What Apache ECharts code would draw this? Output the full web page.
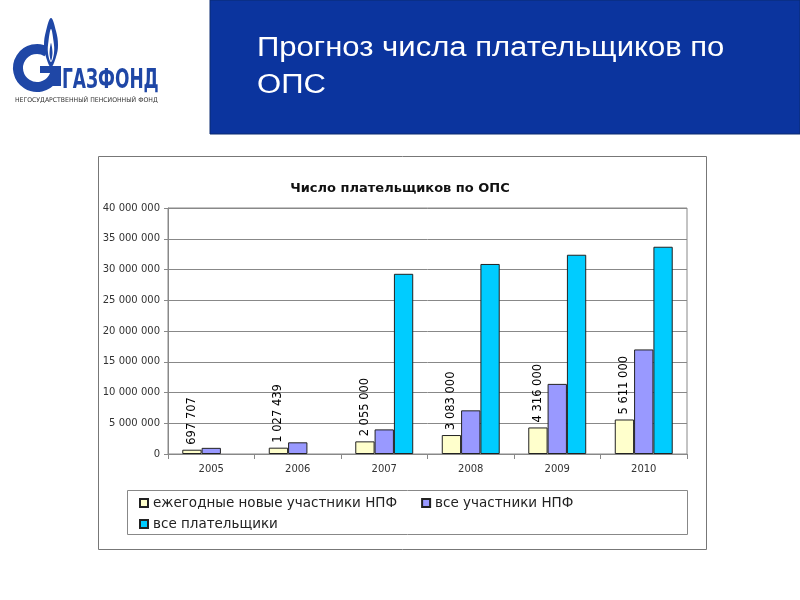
<!DOCTYPE html>
<html>
<head>
<meta charset="utf-8">
<script src="https://cdn.jsdelivr.net/npm/echarts@6/dist/echarts.min.js"></script>
<style>html,body{margin:0;padding:0;background:#fff}#c{width:800px;height:600px}</style>
</head>
<body>
<div id="c"></div>
<script>
const categories = ['2005', '2006', '2007', '2008', '2009', '2010'];
const newMembers = [697707, 1027439, 2055000, 3083000, 4316000, 5611000];
const allMembers = [1000000, 1900000, 4000000, 7100000, 11400000, 17000000];
const allPayers = [null, null, 29300000, 30900000, 32400000, 33700000];
const seriesNames = ['ежегодные новые участники НПФ', 'все участники НПФ', 'все плательщики'];
const yTicks = { min: 0, max: 40000000, interval: 5000000 };

const fmt = v => String(v).replace(/\B(?=(\d{3})+(?!\d))/g, ' ');
const FONT = 'DejaVu Sans';
const LOGO = '#1f47a6';
const chart = echarts.init(document.getElementById('c'));

const barBase = { type: 'bar', barGap: '0%', barCategoryGap: '33%' };
chart.setOption({
  animation: false,
  title: {
    text: 'Число плательщиков по ОПС', left: 'center', top: 177,
    textStyle: { fontFamily: FONT, fontWeight: 'bold', fontSize: 13, color: '#111' }
  },
  grid: { left: 168, right: 113, top: 208, bottom: 146, show: true, borderColor: '#888', borderWidth: 1 },
  xAxis: {
    type: 'category', data: categories,
    axisLine: { lineStyle: { color: '#888' } },
    axisTick: { show: true, length: 5, lineStyle: { color: '#888' } },
    axisLabel: { fontFamily: FONT, fontSize: 10, color: '#333', margin: 10 }
  },
  yAxis: {
    type: 'value', min: yTicks.min, max: yTicks.max, interval: yTicks.interval,
    axisLine: { show: true, lineStyle: { color: '#888' } },
    axisTick: { show: true, length: 4, lineStyle: { color: '#888' } },
    splitLine: { lineStyle: { color: '#888', width: 1 } },
    axisLabel: { fontFamily: FONT, fontSize: 10, color: '#333', margin: 8, formatter: fmt }
  },
  legend: [
    {
      data: [seriesNames[0], seriesNames[1]], left: 139, top: 495, padding: 0,
      itemWidth: 8, itemHeight: 8, itemGap: 24, icon: 'rect',
      textStyle: { fontFamily: FONT, fontSize: 13.5, color: '#222', lineHeight: 16 }
    },
    {
      data: [seriesNames[2]], left: 139, top: 516, padding: 0,
      itemWidth: 8, itemHeight: 8, icon: 'rect',
      textStyle: { fontFamily: FONT, fontSize: 13.5, color: '#222', lineHeight: 16 }
    }
  ],
  series: [
    Object.assign({}, barBase, {
      name: seriesNames[0], data: newMembers,
      itemStyle: { color: '#FFFFCC', borderColor: '#222', borderWidth: 1 },
      label: {
        show: true, position: 'top', rotate: 90, align: 'left', verticalAlign: 'middle',
        distance: 5, fontFamily: FONT, fontSize: 11.5, color: '#000', formatter: p => fmt(p.value)
      }
    }),
    Object.assign({}, barBase, {
      name: seriesNames[1], data: allMembers,
      itemStyle: { color: '#9999FF', borderColor: '#222', borderWidth: 1 }
    }),
    Object.assign({}, barBase, {
      name: seriesNames[2], data: allPayers,
      itemStyle: { color: '#00CCFF', borderColor: '#222', borderWidth: 1 }
    })
  ],
  graphic: [
    { type: 'rect', z: -10, silent: true, shape: { x: 210, y: 0, width: 590, height: 134 },
      style: { fill: '#0B349E', stroke: '#0a2a70', lineWidth: 1 } },
    { type: 'text', silent: true, x: 257, y: 35, scaleX: 1.15,
      style: { text: 'Прогноз числа плательщиков по', font: '27px "Liberation Sans", Arial', fill: '#fff', verticalAlign: 'top' } },
    { type: 'text', silent: true, x: 257, y: 72, scaleX: 1.15,
      style: { text: 'ОПС', font: '27px "Liberation Sans", Arial', fill: '#fff', verticalAlign: 'top' } },
    { type: 'rect', z: -10, silent: true, shape: { x: 98.5, y: 156.5, width: 608, height: 393 },
      style: { fill: '#fff', stroke: '#777', lineWidth: 1 } },
    { type: 'rect', z: -5, silent: true, shape: { x: 127.5, y: 490.5, width: 560, height: 44 },
      style: { fill: '#fff', stroke: '#888', lineWidth: 1 } },
    // logo
    { type: 'arc', silent: true, shape: { cx: 37, cy: 68, r: 19, startAngle: -Math.PI * 0.32, endAngle: Math.PI * 0.05, clockwise: false },
      style: { stroke: LOGO, lineWidth: 10, fill: null } },
    { type: 'rect', silent: true, shape: { x: 40, y: 66, width: 21, height: 7 }, style: { fill: LOGO } },
    { type: 'rect', silent: true, shape: { x: 51, y: 66, width: 10, height: 20 }, style: { fill: LOGO } },
    { type: 'polygon', silent: true,
      shape: { points: [[51, 18], [46, 31], [44, 45], [46, 57], [51, 67], [56, 57], [58, 45], [56, 31]], smooth: 0.4 },
      style: { fill: LOGO } },
    { type: 'polygon', silent: true,
      shape: { points: [[51, 29], [48.5, 41], [48, 53], [51, 62], [54, 53], [53.5, 41]], smooth: 0.4 },
      style: { fill: '#fff' } },
    { type: 'polygon', silent: true,
      shape: { points: [[51, 43], [49.5, 53], [51, 61], [52.5, 53]], smooth: 0.3 },
      style: { fill: LOGO } },
    { type: 'text', silent: true, x: 62, y: 67, scaleX: 0.7,
      style: { text: 'ГАЗФОНД', font: 'bold 27px "DejaVu Sans Condensed", "DejaVu Sans"', fill: LOGO, verticalAlign: 'top' } },
    { type: 'text', silent: true, x: 15, y: 97, scaleX: 1.05,
      style: { text: 'НЕГОСУДАРСТВЕННЫЙ ПЕНСИОННЫЙ ФОНД', font: '6.5px "DejaVu Sans Condensed", "DejaVu Sans"', fill: '#333', verticalAlign: 'top' } }
  ]
});
</script>
</body>
</html>
